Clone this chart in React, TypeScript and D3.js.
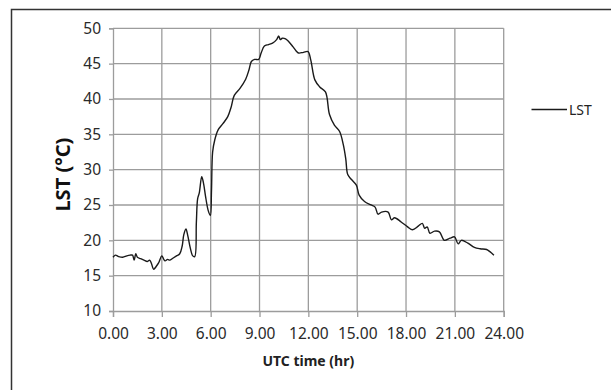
import React, { useEffect, useRef } from "react";
import * as d3 from "d3";

// LST readings across the day (UTC hours)
const hours = [
  0.0, 0.15, 0.35, 0.6, 0.85, 1.05, 1.2, 1.3, 1.4, 1.5, 1.7, 1.9, 2.1, 2.25,
  2.35, 2.5, 2.65, 2.8, 3.0, 3.12, 3.2, 3.35, 3.5, 3.7, 3.9, 4.1, 4.25, 4.35,
  4.48, 4.6, 4.75, 4.9, 5.02, 5.12, 5.2, 5.3, 5.45, 5.55, 5.7, 5.85, 5.98,
  6.05, 6.12, 6.25, 6.45, 6.75, 7.05, 7.25, 7.45, 7.8, 8.15, 8.35, 8.5, 8.7,
  8.95, 9.1, 9.3, 9.55, 9.8, 10.05, 10.18, 10.28, 10.4, 10.6, 10.8, 11.05,
  11.25, 11.4, 11.7, 11.98, 12.15, 12.4, 12.7, 13.05, 13.3, 13.6, 13.92, 14.15,
  14.3, 14.42, 14.65, 14.95, 15.12, 15.45, 15.85, 16.1, 16.28, 16.5, 16.9,
  17.1, 17.3, 17.7, 18.1, 18.4, 18.75, 19.0, 19.15, 19.3, 19.47, 19.75, 20.05,
  20.35, 20.7, 20.98, 21.2, 21.4, 21.8, 22.2, 22.55, 22.95, 23.15, 23.4,
];
const lst = [
  17.6, 17.9, 17.7, 17.6, 17.8, 17.9, 17.9, 17.2, 18.1, 17.6, 17.4, 17.2, 17.0,
  17.2, 16.8, 15.9, 16.3, 16.8, 17.8, 17.3, 17.1, 17.3, 17.2, 17.5, 17.8, 18.1,
  19.2, 20.8, 21.6, 20.6, 18.9, 17.8, 17.7, 22.5, 25.9, 26.7, 29.0, 28.2, 26.0,
  24.2, 23.5, 27.0, 32.5, 34.2, 35.6, 36.5, 37.5, 38.8, 40.5, 41.5, 42.8, 44.1,
  45.3, 45.6, 45.6, 46.5, 47.5, 47.7, 47.9, 48.4, 48.9, 48.4, 48.6, 48.5, 48.1,
  47.4, 46.8, 46.5, 46.6, 46.7, 45.5, 42.7, 41.7, 41.0, 37.8, 36.3, 35.4, 33.5,
  31.5, 29.3, 28.6, 27.8, 26.4, 25.5, 25.0, 24.7, 23.7, 24.0, 24.0, 22.9, 23.2,
  22.6, 21.9, 21.5, 22.0, 22.4, 21.7, 21.9, 21.0, 21.3, 21.2, 20.0, 20.3, 20.5,
  19.5, 20.0, 19.6, 19.0, 18.8, 18.7, 18.4, 17.9,
];
const xTicks = [0, 3, 6, 9, 12, 15, 18, 21, 24];
const yTicks = [10, 15, 20, 25, 30, 35, 40, 45, 50];

const FONT = "'Noto Sans', 'Open Sans', sans-serif";

const LstChart = () => {
  const svgRef = useRef<SVGSVGElement>(null);

  useEffect(() => {
    const svg = d3.select(svgRef.current);
    svg.selectAll("*").remove(); // clear before redraw

    const left = 113, right = 503.7, top = 28.3, bottom = 311;
    const x = d3.scaleLinear().domain([0, 24]).range([left, right]);
    const y = d3.scaleLinear().domain([10, 50]).range([bottom, top]);
    const grid = "#9c9c9c";

    // outer chart frame
    svg
      .append("rect")
      .attr("x", 11.5)
      .attr("y", 9.5)
      .attr("width", 640)
      .attr("height", 420)
      .attr("fill", "#fff")
      .attr("stroke", "#333")
      .attr("stroke-width", 1.5);

    // gridlines
    svg
      .append("g")
      .selectAll("line")
      .data(yTicks.slice(1))
      .enter()
      .append("line")
      .attr("x1", left)
      .attr("x2", right)
      .attr("y1", (d) => y(d))
      .attr("y2", (d) => y(d))
      .attr("stroke", grid)
      .attr("stroke-width", 1.3);
    svg
      .append("g")
      .selectAll("line")
      .data(xTicks.slice(1))
      .enter()
      .append("line")
      .attr("x1", (d) => x(d))
      .attr("x2", (d) => x(d))
      .attr("y1", top)
      .attr("y2", bottom)
      .attr("stroke", grid)
      .attr("stroke-width", 1.3);

    // axes
    const yAxis = svg
      .append("g")
      .attr("transform", `translate(${left},0)`)
      .call(d3.axisLeft(y).tickValues(yTicks).tickSize(4).tickPadding(8));
    const xAxis = svg
      .append("g")
      .attr("transform", `translate(0,${bottom})`)
      .call(
        d3
          .axisBottom(x)
          .tickValues(xTicks)
          .tickSize(6)
          .tickPadding(11)
          .tickFormat((d) => (d as number).toFixed(2))
      );
    [yAxis, xAxis].forEach((ax) => {
      ax.select(".domain").attr("stroke", grid).attr("stroke-width", 1.3);
      ax.selectAll(".tick line").attr("stroke", grid).attr("stroke-width", 1.3);
      ax.selectAll("text")
        .attr("fill", "#2a2a2a")
        .style("font-family", FONT)
        .style("font-size", "15.5px");
    });

    // the LST line
    const pts = hours.map((h, i) => [h, lst[i]] as [number, number]);
    const line = d3
      .line<[number, number]>()
      .x((d) => x(d[0]))
      .y((d) => y(d[1]))
      .curve(d3.curveCatmullRom.alpha(0.5));
    svg
      .append("path")
      .datum(pts)
      .attr("d", line)
      .attr("fill", "none")
      .attr("stroke", "#1a1a1a")
      .attr("stroke-width", 1.4);

    // axis titles
    svg
      .append("text")
      .attr("x", (left + right) / 2)
      .attr("y", 366)
      .attr("text-anchor", "middle")
      .attr("fill", "#222")
      .style("font-family", FONT)
      .style("font-weight", "bold")
      .style("font-size", "14px")
      .text("UTC time (hr)");
    svg
      .append("text")
      .attr("transform", `translate(70,${(top + bottom) / 2 + 5}) rotate(-90)`)
      .attr("text-anchor", "middle")
      .attr("fill", "#111")
      .style("font-family", FONT)
      .style("font-weight", "bold")
      .style("font-size", "20px")
      .text("LST (°C)");

    // legend
    svg
      .append("line")
      .attr("x1", 531.5)
      .attr("x2", 567)
      .attr("y1", 109.5)
      .attr("y2", 109.5)
      .attr("stroke", "#1a1a1a")
      .attr("stroke-width", 1.4);
    svg
      .append("text")
      .attr("x", 569)
      .attr("y", 110)
      .attr("dy", "0.35em")
      .attr("fill", "#222")
      .style("font-family", FONT)
      .style("font-size", "14px")
      .text("LST");
  }, []);

  return <svg ref={svgRef} width={611} height={390} style={{ display: "block" }} />;
};

export default function App() {
  useEffect(() => {
    document.body.style.margin = "0";
  }, []);
  return <LstChart />;
}
